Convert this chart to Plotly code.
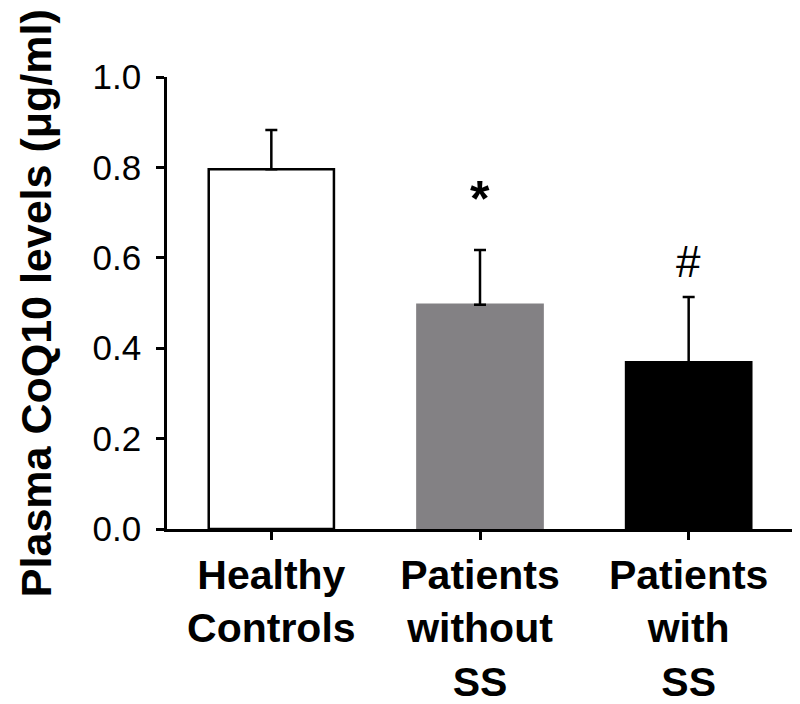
import plotly.graph_objects as go

categories = ["Healthy<br>Controls", "Patients<br>without<br>SS", "Patients<br>with<br>SS"]
means = [0.796, 0.496, 0.369]
errors = [0.087, 0.121, 0.144]
bar_colors = ["#ffffff", "#838184", "#000000"]
bar_line_colors = ["#000000", "#838184", "#000000"]
markers = ["", "*", "#"]
y_ticks = [0.0, 0.2, 0.4, 0.6, 0.8, 1.0]
y_title = "Plasma CoQ10 levels (μg/ml)"

fig = go.Figure()
fig.add_trace(go.Bar(
    x=categories, y=means, width=0.6,
    marker=dict(color=bar_colors, line=dict(color=bar_line_colors, width=2.5)),
    error_y=dict(type="data", array=errors, arrayminus=[0] * len(errors), symmetric=False,
                 color="#000000", thickness=2.5, width=6),
    showlegend=False,
))

# significance marks
fig.add_annotation(x=categories[1], y=means[1] + errors[1], yshift=51, text=markers[1],
                   showarrow=False, font=dict(family="Liberation Sans", size=50, color="#000000",
                                              weight="bold"))
fig.add_annotation(x=categories[2], y=means[2] + errors[2], yshift=36, text=markers[2],
                   showarrow=False, font=dict(family="Liberation Sans", size=44, color="#000000"))

# y-axis title
fig.add_annotation(xref="paper", yref="paper", x=-0.209, y=0.5, text="<b>" + y_title + "</b>",
                   textangle=-90, showarrow=False, xanchor="center", yanchor="middle",
                   font=dict(family="Liberation Sans", size=43, color="#000000"))

fig.update_layout(
    template="none",
    width=792, height=696,
    margin=dict(l=159, r=7, t=69, b=175, autoexpand=False),
    plot_bgcolor="#ffffff", paper_bgcolor="#ffffff",
    font=dict(family="Liberation Sans", color="#000000"),
    bargap=0.4,
)
fig.update_xaxes(
    range=[-0.5, 2.5], showline=True, linecolor="#000000", linewidth=2.5,
    ticks="outside", ticklen=8, tickwidth=2.5, tickcolor="#000000", automargin=False,
    tickfont=dict(family="Liberation Sans", size=41, color="#000000", weight="bold"),
    showgrid=False, zeroline=False,
)
fig.update_yaxes(
    range=[0, 1], tickvals=y_ticks, tickformat=".1f", showline=True, linecolor="#000000",
    linewidth=2.5, ticks="outside", ticklen=8, tickwidth=2.5, tickcolor="#000000",
    tickfont=dict(family="Liberation Sans", size=35, color="#000000"), automargin=False,
    showgrid=False, zeroline=False, ticklabelstandoff=8,
)

fig.write_html("out.html")
